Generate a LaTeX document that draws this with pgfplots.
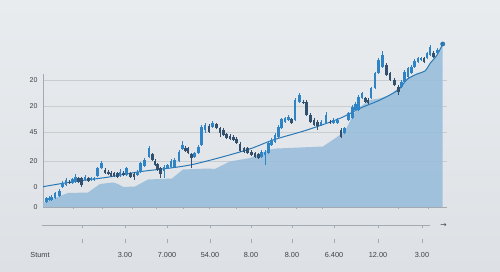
\documentclass[border=0pt]{standalone}
\usepackage{pgfplots}
\pgfplotsset{compat=1.18}
\usepackage{pgfplotstable}
\usepackage{fontspec}
\setmainfont{Liberation Sans}
\newfontfamily\symfont{DejaVu Sans}
\definecolor{bgtop}{HTML}{E9ECEF}
\definecolor{bgbot}{HTML}{DDE1E5}
\definecolor{areac}{HTML}{9ABEDB}
\definecolor{gridc}{HTML}{C8CDD2}
\definecolor{axisc}{HTML}{A3AAB1}
\definecolor{upc}{HTML}{2E84C4}
\definecolor{downc}{HTML}{33506F}
\definecolor{linec}{HTML}{2A79B6}
\definecolor{textc}{HTML}{3B4148}

\pgfplotstableread{
x t b h l
46.7 8.7 5.3 10 4
49 9.3 7 10.5 6
51.7 10.3 7 11.5 6
55 13.7 8.7 15 7.5
59.3 16.3 11 17.5 10
62.7 24.3 19.7 26 18.5
66 27 22 28.5 20.5
72.7 27.7 23.7 29 22.5
75.3 30.3 25.3 32.5 24
85 30.3 27 31.5 26
91 28.7 27 30 26
94 28.7 27 30 26
97.3 38.7 31 40 30
101.3 44.3 38.7 46 37.5
120 35.3 31 37.5 30
126.7 38.7 32 40 31
137.3 35.3 32 36.5 31
140.7 43.7 35 45 34
144.5 47 41 48.5 40
149 58.7 50.3 60.5 49
164 40.3 36 41.5 28.7
167.3 42 38.7 43 37.5
171 46 40.3 47.5 39
174.3 47 40.3 48.5 39
179 55.3 46 56.5 45
182.7 62 57.7 66 56.5
194.3 53.7 50.3 55 49
198.3 60.3 53.7 61.5 52.5
201.7 80.3 62 81.5 60.5
205 82 77 83.5 73.7
212.7 83.7 80.3 86 79
261.7 55.3 50.3 56.5 49
265 55.3 52 56.5 42
268.3 63.7 53.7 65 52.5
271.7 67 62 68.5 60.5
275 72 65.3 73.5 64
278.3 80.3 70.3 81.5 69
281.7 87.7 78.7 89 77.5
285 88.7 85.3 90 84
288.3 90.3 87 91.5 86
295 107 87 108.5 86
299.3 112 105.3 114.3 104
321 85.3 82 86.5 81
326 92 83.7 95.3 82.5
333.3 87 83.7 88.5 82.5
337.3 87 83.7 88.5 82.5
344.7 78.7 73.7 80 72.5
348.7 93.7 87 95 86
352.3 100.3 88.7 101.5 87.5
355.7 103 97 104.5 96
358.7 110.3 97 111.5 96
362 113.7 108.7 115 107.5
371 118.7 108.7 120 107.5
375 133.7 118.7 135 117.5
378.5 147 133.7 148.5 132.5
382.5 152 140.3 156 139
401.7 125.3 120.3 126.5 119
404.7 135.3 125.3 136.5 124
408 138.7 130.3 140 129
411.3 140.3 133.7 141.5 132.5
414.7 146 140.3 147.5 139
418 148.7 145.3 150 144
421 148.7 146.5 150 145.5
427 153.7 148.7 155 147.5
430 160.3 152 161.5 151
437.3 157 153.7 158.5 152.5
}\upT

\pgfplotstableread{
x t b h l
69.3 25.3 23.7 26.5 22.5
78.3 28.7 25.3 30 24
81.3 28.7 22 30 20.3
88.3 28.7 26.3 30 25
105 37 33.7 38.5 32.5
108.3 35.3 33 36.5 32
111 34.3 31 35.5 30
114 33.7 31 35 30
117.3 33.7 30.3 35 29
123.3 34.3 31.7 35.5 30.5
130.7 33.7 30.3 35 29
134 33 29.7 34.5 27
152.3 52.7 47 54 46
155 46 42 47.5 41
157.7 42.7 37 44 36
160.7 38.7 32.7 40 28.7
185.7 59.3 56 60.5 55
188 58.7 53.7 60 52.5
191.3 52.7 49.3 54 38.7
209 81 75.3 82.5 74
216.3 82.7 79.3 84 78
220 78.7 73.7 80 70.3
223.3 77 72 78.5 71
226.7 72.7 68.7 74 67.5
230 71.3 68 72.5 67
233.3 70.3 67 71.5 66
236.7 68 63.7 69.5 62.5
240 63 55.5 64.5 54.5
244 58.7 55.3 60 54
247.3 58.7 53.7 60 52.5
251.7 55.3 52 56.5 51
255 53.7 50.3 55 49
258.3 52.7 48.7 54 47.5
291.7 87.7 84.3 89 83
303.3 105.3 103.7 106.5 102.5
306.7 105.3 92 106.5 91
310.7 92 85.3 93.5 84
314 87 82 88.5 81
317.3 85.3 81 86.5 77
330 85.3 83.7 86.5 82.5
341 77 70.3 78.5 69
365.3 108.7 105.3 110 104
368 107 104 108.5 103
386.3 142 132 143.5 131
390 133.7 127 135 126
394.3 127 122 128.5 121
398.3 120.3 115.3 121.5 112
424 148.7 145.3 150 144
433.7 154.3 150.3 155.5 149
}\downT

\begin{document}
\begin{tikzpicture}
\path[use as bounding box] (0,0) rectangle (500pt,272pt);
\shade[top color=bgtop, bottom color=bgbot] (0,0) rectangle (500pt,272pt);

\begin{axis}[
  at={(43pt,65pt)}, anchor=south west,
  scale only axis, width=404pt, height=133pt,
  xmin=43, xmax=447, ymin=0, ymax=133,
  axis x line*=bottom, axis y line*=left,
  axis line style={draw=axisc, line width=0.6pt},
  xtick={73,102,132,156,183,209,236,268,296,322,398,428},
  xticklabels={},
  xtick style={draw=axisc, line width=0.5pt},
  tick align=outside, major tick length=2pt,
  ytick={46,74.5,101,126.5},
  yticklabels={20,45,20,20},
  extra y ticks={0,20.3},
  extra y tick labels={0,0},
  extra y tick style={grid=none},
  ytick style={draw=none},
  ymajorgrids,
  grid style={draw=gridc, line width=0.6pt},
  yticklabel style={font=\fontsize{7}{8}\selectfont, text=textc},
  clip=false,
]
\addplot[fill=areac, draw=none, fill opacity=0.9] coordinates {
(43,4) (55,9) (68,14) (88,14.5) (100,23) (113,24.5) (118,23) (123,20)
(135,20.5) (148,27.5) (172,28.5) (183,37.5) (208,38.5) (215,38) (230,45.5)
(250,49) (270,57.5) (277,58.5) (323,60.5) (337,70) (345,76) (350,86)
(355,95) (360,100) (370,107) (380,108.7) (390,112) (400,120) (407,128.5)
(417,133.5) (425,135.5) (430,143.5) (437,152) (442.7,163)
} \closedcycle;

\addplot[linec, line width=1pt, smooth, tension=0.5] coordinates {
(43,20.3) (73,25.3) (107,29.7) (140,35.3) (190,42) (245,56.5) (273,67)
(307,77) (340,88.7) (360,98.7) (380,107) (398,117) (407,127.5)
(417,133) (425,136) (430,143.5) (437,152) (442.7,163)
};

% wicks
\addplot[draw=none, no markers, forget plot,
  error bars/.cd, y dir=both, y explicit, error mark=none,
  error bar style={line width=0.5pt, draw=upc}]
  table[x=x, y expr={(\thisrow{h}+\thisrow{l})/2}, y error expr={(\thisrow{h}-\thisrow{l})/2}] {\upT};
\addplot[draw=none, no markers, forget plot,
  error bars/.cd, y dir=both, y explicit, error mark=none,
  error bar style={line width=0.5pt, draw=downc}]
  table[x=x, y expr={(\thisrow{h}+\thisrow{l})/2}, y error expr={(\thisrow{h}-\thisrow{l})/2}] {\downT};
% bodies
\addplot[draw=none, no markers, forget plot,
  error bars/.cd, y dir=both, y explicit, error mark=none,
  error bar style={line width=2.6pt, draw=upc}]
  table[x=x, y expr={(\thisrow{t}+\thisrow{b})/2}, y error expr={(\thisrow{t}-\thisrow{b})/2}] {\upT};
\addplot[draw=none, no markers, forget plot,
  error bars/.cd, y dir=both, y explicit, error mark=none,
  error bar style={line width=2.6pt, draw=downc}]
  table[x=x, y expr={(\thisrow{t}+\thisrow{b})/2}, y error expr={(\thisrow{t}-\thisrow{b})/2}] {\downT};

\addplot[only marks, mark=*, mark size=2.2pt, color=linec] coordinates {(442.7,163)};
\end{axis}

\begin{axis}[
  at={(30pt,29pt)}, anchor=south west,
  scale only axis, width=420pt, height=18pt,
  xmin=30, xmax=450, ymin=0, ymax=18,
  axis line style={draw=none},
  ytick=\empty,
  xtick={82,125,167,210,251,292,334,378,422},
  xticklabels={,3.00,7.000,54.00,8.00,8.00,6.400,12.00,3.00},
  extra x ticks={40},
  extra x tick labels={Stumt},
  extra x tick style={major tick length=0pt},
  xtick pos=both, tick align=inside, major tick length=3.5pt,
  xtick style={draw=axisc, line width=0.5pt},
  xticklabel style={font=\fontsize{7.3}{8}\selectfont, text=textc, yshift=-6pt},
  clip=false,
]
\addplot[axisc, line width=0.6pt] coordinates {(42,18) (430,18)};
\node[font=\symfont\fontsize{7.5}{7.5}\selectfont, text=textc] at (axis cs:443.5,17.3) {→};
\end{axis}
\end{tikzpicture}
\end{document}
